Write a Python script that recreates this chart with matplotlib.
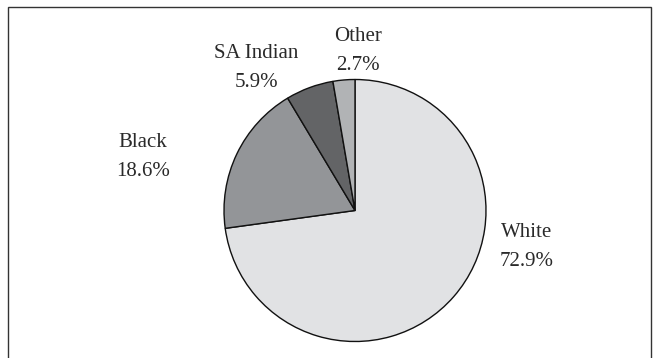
import matplotlib.pyplot as plt
from matplotlib.patches import Rectangle

# Data
groups = ['White', 'Black', 'SA Indian', 'Other']
shares = [72.9, 18.6, 5.9, 2.7]
colors = ['#e1e2e4', '#939598', '#636466', '#b1b3b5']

# label anchor positions (pixels, top-left origin)
label_pos = [(527, 247), (143, 157), (256, 68), (358, 51)]

W, H = 659, 358
fig = plt.figure(figsize=(W / 100, H / 100), dpi=100)
ax = fig.add_axes([0, 0, 1, 1])

# Outer frame
ax.add_patch(Rectangle((7.5, -10), 643, H - 7 + 10, fill=False,
                       edgecolor='#333333', linewidth=1.0))

ax.pie(shares, colors=colors, startangle=90, counterclock=False,
       center=(355, H - 210.5), radius=131, frame=True,
       wedgeprops=dict(edgecolor='#111111', linewidth=1.0))
ax.set_xlim(0, W)
ax.set_ylim(0, H)
ax.set_aspect('equal')
ax.axis('off')

for g, s, (x, y) in zip(groups, shares, label_pos):
    ax.text(x, H - y, f'{g}\n{s:.1f}%', ha='center', va='center',
            fontsize=15, family='Liberation Serif', color='#2a2a2a',
            linespacing=1.65)

plt.savefig('out.png', dpi=100)
